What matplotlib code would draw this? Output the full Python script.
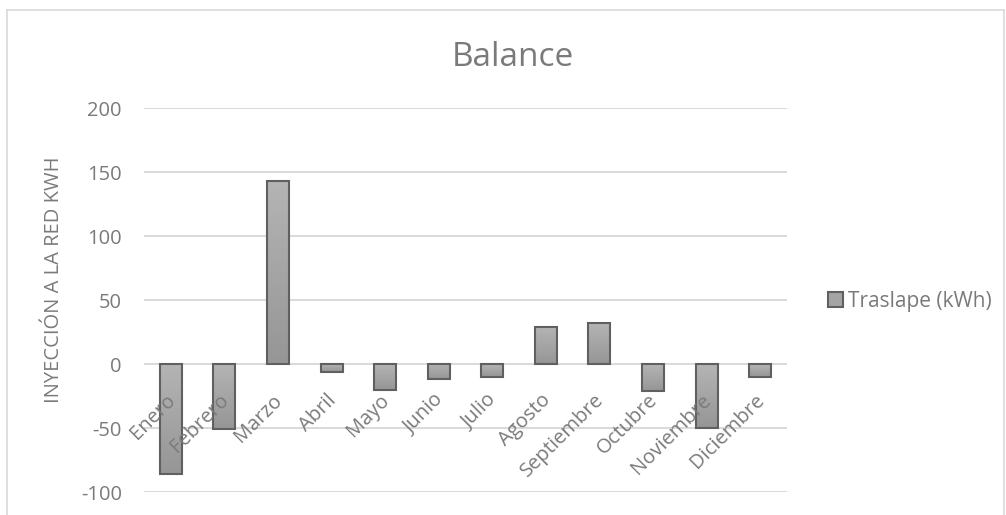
import matplotlib
matplotlib.use("Agg")
import matplotlib.pyplot as plt
from matplotlib.patches import Rectangle
from matplotlib.lines import Line2D
import numpy as np

months = ["Enero", "Febrero", "Marzo", "Abril", "Mayo", "Junio", "Julio",
          "Agosto", "Septiembre", "Octubre", "Noviembre", "Diciembre"]
traslape = [-86, -51, 143, -6, -20, -12, -10, 29, 32, -21, -50, -10]
yticks = [-100, -50, 0, 50, 100, 150, 200]
series_name = "Traslape (kWh)"
title = "Balance"
ylabel = "INYECCIÓN A LA RED KWH"

W, H = 1006, 515
fig = plt.figure(figsize=(W / 100, H / 100), dpi=100)
plt.rcParams['font.family'] = ['Open Sans', 'DejaVu Sans']
txt = "#7a7a7a"

# outer chart border
for xs, ys in [([7, 7], [515, 10]), ([7, 1004], [10, 10]), ([1004, 1004], [10, 515])]:
    fig.add_artist(Line2D([v / W for v in xs], [1 - v / H for v in ys],
                          transform=fig.transFigure, color="#d9d9d9", lw=1.2))

ax = fig.add_axes([144 / W, 1 - 492 / H, (787 - 144) / W, (492 - 108) / H])
x = np.arange(len(months))
bars = ax.bar(x, traslape, width=0.41, color="none", edgecolor="#606060", linewidth=1.5, zorder=4)

# vertical gradient fill for each bar (lighter at top, darker at bottom)
grad = np.linspace(0, 1, 64).reshape(-1, 1)
cmap = matplotlib.colors.LinearSegmentedColormap.from_list("g", ["#b4b4b4", "#969696"])
for b in bars:
    x0, w = b.get_x(), b.get_width()
    y0, h = b.get_y(), b.get_height()
    ylo, yhi = min(y0, y0 + h), max(y0, y0 + h)
    im = ax.imshow(grad, extent=(x0, x0 + w, ylo, yhi), cmap=cmap, aspect='auto',
                   origin='upper', zorder=3, interpolation='bilinear')
    fill = Rectangle((x0, ylo), w, yhi - ylo, transform=ax.transData)
    im.set_clip_path(fill)
ax.set_xlim(-0.5, len(months) - 0.5)
ax.set_ylim(min(yticks), max(yticks))

ax.set_yticks(yticks)
ax.set_yticklabels([str(v) for v in yticks], fontsize=14.5, color=txt)
ax.tick_params(axis='y', length=0, pad=16)
ax.set_xticks([])
ax.grid(axis='y', color="#d9d9d9", linewidth=1.4, zorder=0)
ax.set_axisbelow(True)
for s in ax.spines.values():
    s.set_visible(False)

for i, m in enumerate(months):
    ax.annotate(m, xy=(i, 0), xytext=(1, -24), textcoords='offset points',
                rotation=45, rotation_mode='anchor', ha='right', va='center',
                fontsize=14.5, color=txt, zorder=5)

fig.text(513 / W, 1 - 66 / H, title, fontsize=24, color=txt, ha='center', va='baseline')
fig.text(54 / W, 1 - 280 / H, ylabel, fontsize=14.5, color=txt, rotation=90, ha='center', va='center')

handle = Rectangle((0, 0), 1, 1, facecolor="#a4a4a4", edgecolor="#606060", linewidth=1.5)
fig.legend([handle], [series_name], loc='center left', bbox_to_anchor=(828 / W, 1 - 301 / H),
           frameon=False, fontsize=15, handlelength=0.72, handleheight=0.72, handletextpad=0.25,
           borderaxespad=0, borderpad=0, labelcolor=txt)

fig.savefig("out.png", dpi=100)
